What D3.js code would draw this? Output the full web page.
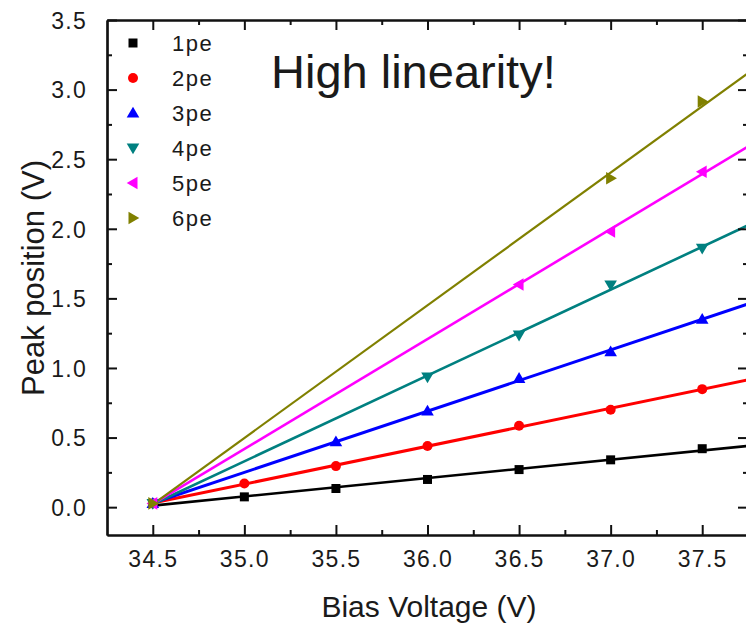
<!DOCTYPE html>
<html>
<head>
<meta charset="utf-8">
<script src="https://cdn.jsdelivr.net/npm/d3@7"></script>
<style>
  html, body { margin: 0; padding: 0; background: #fff; }
  svg { display: block; }
  text { font-family: "Liberation Sans", Arial, sans-serif; fill: #1a1a1a; }
</style>
</head>
<body>
<script>
// Peak position of each photo-electron peak versus SiPM bias voltage
const seriesNames = ["1pe", "2pe", "3pe", "4pe", "5pe", "6pe"];
const seriesColors = ["#000000", "#ff0000", "#0000ff", "#008080", "#ff00ff", "#808000"];
const seriesSymbols = ["square", "circle", "triUp", "triDown", "triLeft", "triRight"];

const bias1pe = [34.5, 35.0, 35.5, 36.0, 36.5, 37.0, 37.5];
const peak1pe = [0.027, 0.074, 0.134, 0.199, 0.27, 0.34, 0.42];
const bias2pe = [34.5, 35.0, 35.5, 36.0, 36.5, 37.0, 37.5];
const peak2pe = [0.027, 0.17, 0.295, 0.44, 0.585, 0.70, 0.848];
const bias3pe = [34.5, 35.5, 36.0, 36.5, 37.0, 37.5];
const peak3pe = [0.027, 0.47, 0.69, 0.925, 1.117, 1.35];
const bias4pe = [34.5, 36.0, 36.5, 37.0, 37.5];
const peak4pe = [0.027, 0.935, 1.236, 1.596, 1.86];
const bias5pe = [34.5, 36.5, 37.0, 37.5];
const peak5pe = [0.027, 1.60, 1.98, 2.41];
const bias6pe = [34.5, 37.0, 37.5];
const peak6pe = [0.027, 2.363, 2.914];

const biasBySeries = [bias1pe, bias2pe, bias3pe, bias4pe, bias5pe, bias6pe];
const peakBySeries = [peak1pe, peak2pe, peak3pe, peak4pe, peak5pe, peak6pe];

const xTickValues = [34.5, 35.0, 35.5, 36.0, 36.5, 37.0, 37.5];
const xMinorTicks = [34.75, 35.25, 35.75, 36.25, 36.75, 37.25, 37.75];
const yTickValues = [0.0, 0.5, 1.0, 1.5, 2.0, 2.5, 3.0, 3.5];
const yMinorTicks = [0.25, 0.75, 1.25, 1.75, 2.25, 2.75, 3.25];

const xDomain = [34.25, 37.75];
const yDomain = [-0.2, 3.5];

const W = 746, H = 630;
const plotL = 107, plotR = 748, plotT = 20, plotB = 535;

const svg = d3.select("body").append("svg")
  .attr("width", W).attr("height", H);
svg.append("rect").attr("width", W).attr("height", H).attr("fill", "#fff");

const x = d3.scaleLinear().domain(xDomain).range([plotL, plotR]);
const y = d3.scaleLinear().domain(yDomain).range([plotB, plotT]);

svg.append("defs").append("clipPath").attr("id", "plotClip")
  .append("rect").attr("x", plotL).attr("y", plotT)
  .attr("width", plotR - plotL).attr("height", plotB - plotT);

// Least-squares straight-line fit for each series
function fit(xs, ys) {
  const n = xs.length;
  const mx = d3.mean(xs), my = d3.mean(ys);
  let sxy = 0, sxx = 0;
  for (let i = 0; i < n; i++) {
    sxy += (xs[i] - mx) * (ys[i] - my);
    sxx += (xs[i] - mx) * (xs[i] - mx);
  }
  const b = sxy / sxx;
  return { a: my - b * mx, b };
}

function symbolPath(kind, s) {
  const h = s / 2;
  switch (kind) {
    case "square": return `M${-h},${-h}H${h}V${h}H${-h}Z`;
    case "circle": return d3.symbol(d3.symbolCircle, Math.PI * h * h)();
    case "triUp": return `M0,${-h * 1.05}L${h * 1.05},${h * 0.75}L${-h * 1.05},${h * 0.75}Z`;
    case "triDown": return `M0,${h * 1.05}L${h * 1.05},${-h * 0.75}L${-h * 1.05},${-h * 0.75}Z`;
    case "triLeft": return `M${-h * 1.05},0L${h * 0.75},${-h * 1.05}L${h * 0.75},${h * 1.05}Z`;
    case "triRight": return `M${h * 1.05},0L${-h * 0.75},${-h * 1.05}L${-h * 0.75},${h * 1.05}Z`;
  }
}

const plot = svg.append("g").attr("clip-path", "url(#plotClip)");
const lineWidths = [2.6, 3, 3, 2.6, 2.6, 2.2];
const markerSizes = [9, 10, 12, 12, 12, 12];

seriesNames.forEach((name, i) => {
  const xs = biasBySeries[i], ys = peakBySeries[i];
  const f = fit(xs, ys);
  const x0 = d3.min(xs), x1 = xDomain[1];
  plot.append("line")
    .attr("x1", x(x0)).attr("y1", y(f.a + f.b * x0))
    .attr("x2", x(x1)).attr("y2", y(f.a + f.b * x1))
    .attr("stroke", seriesColors[i]).attr("stroke-width", lineWidths[i]);
});

seriesNames.forEach((name, i) => {
  const pts = biasBySeries[i].map((v, j) => [v, peakBySeries[i][j]]);
  plot.selectAll(null).data(pts).enter().append("path")
    .attr("d", symbolPath(seriesSymbols[i], markerSizes[i]))
    .attr("transform", d => `translate(${x(d[0])},${y(d[1])})`)
    .attr("fill", seriesColors[i]);
});

// Frame with inward ticks on all four sides
const axisColor = "#111";
const bottomAxis = d3.axisBottom(x).tickValues(xTickValues).tickSizeInner(-10).tickSizeOuter(0)
  .tickPadding(16).tickFormat(d3.format(".1f"));
const gB = svg.append("g").attr("transform", `translate(0,${plotB})`).call(bottomAxis);
const gBm = svg.append("g").attr("transform", `translate(0,${plotB})`)
  .call(d3.axisBottom(x).tickValues(xMinorTicks).tickSizeInner(-5).tickSizeOuter(0).tickFormat(""));
const gT = svg.append("g").attr("transform", `translate(0,${plotT})`)
  .call(d3.axisTop(x).tickValues(xTickValues).tickSizeInner(-10).tickSizeOuter(0).tickFormat(""));
const gTm = svg.append("g").attr("transform", `translate(0,${plotT})`)
  .call(d3.axisTop(x).tickValues(xMinorTicks).tickSizeInner(-5).tickSizeOuter(0).tickFormat(""));

const leftAxis = d3.axisLeft(y).tickValues(yTickValues).tickSizeInner(-10).tickSizeOuter(0)
  .tickPadding(20).tickFormat(d3.format(".1f"));
const gL = svg.append("g").attr("transform", `translate(${plotL},0)`).call(leftAxis);
const gLm = svg.append("g").attr("transform", `translate(${plotL},0)`)
  .call(d3.axisLeft(y).tickValues(yMinorTicks).tickSizeInner(-5).tickSizeOuter(0).tickFormat(""));
const gR = svg.append("g").attr("transform", `translate(${plotR},0)`)
  .call(d3.axisRight(y).tickValues(yTickValues).tickSizeInner(-10).tickSizeOuter(0).tickFormat(""));
const gRm = svg.append("g").attr("transform", `translate(${plotR},0)`)
  .call(d3.axisRight(y).tickValues(yMinorTicks).tickSizeInner(-5).tickSizeOuter(0).tickFormat(""));

[gB, gBm, gT, gTm, gL, gLm, gR, gRm].forEach(g => {
  g.selectAll("path.domain").attr("stroke", axisColor).attr("stroke-width", 2.2);
  g.selectAll(".tick line").attr("stroke", axisColor).attr("stroke-width", 2);
  g.selectAll(".tick text")
    .attr("font-family", "'Liberation Sans', Arial, sans-serif")
    .attr("font-size", 23).attr("letter-spacing", 1.3).attr("fill", "#1a1a1a");
});
gL.selectAll(".tick text").attr("dx", "0").attr("dy", "0.36em");
gB.selectAll(".tick text").attr("dy", "0.71em");

// Axis titles
svg.append("text")
  .attr("x", 429).attr("y", 617)
  .attr("text-anchor", "middle").attr("font-size", 30)
  .text("Bias Voltage (V)");
svg.append("text")
  .attr("transform", "translate(44,278) rotate(-90)")
  .attr("text-anchor", "middle").attr("font-size", 31)
  .text("Peak position (V)");

// Annotation
svg.append("text")
  .attr("x", 271).attr("y", 88)
  .attr("font-size", 47)
  .text("High linearity!");

// Legend
const legend = svg.append("g");
seriesNames.forEach((name, i) => {
  const cy = 43 + i * 35;
  legend.append("path")
    .attr("d", symbolPath(seriesSymbols[i], markerSizes[i]))
    .attr("transform", `translate(133,${cy})`)
    .attr("fill", seriesColors[i]);
  legend.append("text")
    .attr("x", 172).attr("y", cy + 8)
    .attr("font-size", 22).attr("letter-spacing", 1.5)
    .text(name);
});
</script>
</body>
</html>
